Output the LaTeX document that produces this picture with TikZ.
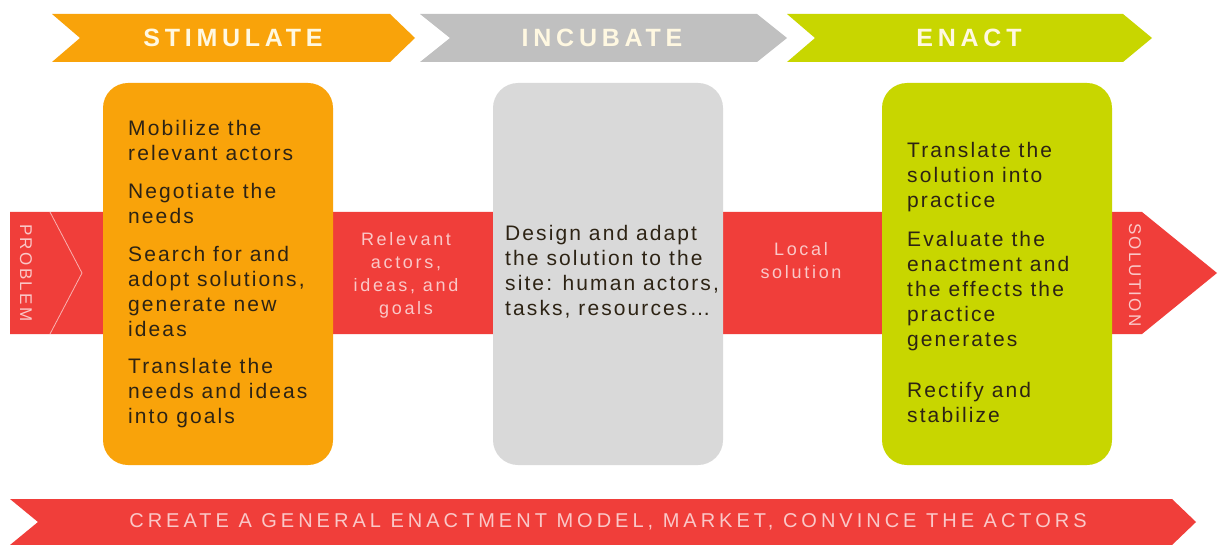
\documentclass[tikz,border=0pt]{standalone}
\usepackage{fontspec}
\setmainfont{Liberation Sans}
\newfontfamily\headfont{Liberation Sans}[LetterSpace=19]
\newfontfamily\boxfont{Liberation Sans}[LetterSpace=10]
\newfontfamily\bandfont{Liberation Sans}[LetterSpace=15]
\newfontfamily\sidefont{Liberation Sans}[LetterSpace=14]
\newfontfamily\footfont{Liberation Sans}[LetterSpace=20]

\definecolor{stimorange}{RGB}{249,163,10}
\definecolor{incgray}{RGB}{192,192,192}
\definecolor{incbox}{RGB}{217,217,217}
\definecolor{enactgreen}{RGB}{200,214,0}
\definecolor{bandred}{RGB}{240,62,58}
\definecolor{headcream}{RGB}{255,248,225}
\definecolor{bandpink}{RGB}{250,200,200}
\definecolor{darktext}{RGB}{45,35,20}

\begin{document}
\begin{tikzpicture}[x=1pt, y=-1pt]
        \tikzstyle{stage}=[rounded corners=25pt,minimum width=230pt,minimum height=382pt,inner sep=0pt]
        \tikzstyle{headtext}=[font=\headfont\bfseries\fontsize{25}{30}\selectfont,text=headcream,inner sep=0pt]
        \tikzstyle{boxtext}=[font=\boxfont\fontsize{21}{25}\selectfont,text=darktext,align=left,inner sep=0pt,anchor=north west]
        \tikzstyle{bandtext}=[font=\bandfont\fontsize{18}{23}\selectfont,text=bandpink,align=center,inner sep=0pt,anchor=north]
        \tikzstyle{sidetext}=[font=\sidefont\fontsize{17}{20}\selectfont,text=bandpink,inner sep=0pt,rotate=-90]

        \fill[white] (0,0) rectangle (1222,545);
        \useasboundingbox (0,0) rectangle (1222,545);

        \fill[stimorange] (52,14) -- (390,14) -- (415,38) -- (390,62) -- (52,62) -- (80,38) -- cycle;
        \fill[incgray] (420,14) -- (757,14) -- (787,38) -- (757,62) -- (420,62) -- (450,38) -- cycle;
        \fill[enactgreen] (787,14) -- (1123,14) -- (1152,38) -- (1123,62) -- (787,62) -- (815,38) -- cycle;
        \node[headtext] (H_1) at (233,38) {STIMULATE};
        \node[headtext] (H_2) at (602,38) {INCUBATE};
        \node[headtext] (H_3) at (969,38) {ENACT};

        \fill[bandred] (10,212) -- (1142,212) -- (1217,273) -- (1142,334) -- (10,334) -- cycle;
        \draw[white,opacity=0.6,line width=0.8pt] (50,212) -- (82,273) -- (50,334);
        \node[sidetext] (P) at (26,273) {PROBLEM};
        \node[sidetext] (S) at (1135,275) {SOLUTION};

        \node[stage,fill=stimorange] (B_1) at (218,274) {};
        \node[stage,fill=incbox] (B_2) at (608,274) {};
        \node[stage,fill=enactgreen] (B_3) at (997,274) {};

        \node[boxtext] (T_1) at (128,120) {Mobilize the\\relevant actors\\[13pt]Negotiate the\\needs\\[13pt]Search for and\\adopt solutions,\\generate new\\ideas\\[12pt]Translate the\\needs and ideas\\into goals};
        \node[boxtext] (T_2) at (505,225) {Design and adapt\\the solution to the\\site: human actors,\\tasks, resources\dots};
        \node[boxtext] (T_3) at (907,142) {Translate the\\solution into\\practice\\[14pt]Evaluate the\\enactment and\\the effects the\\practice\\generates\\[26pt]Rectify and\\stabilize};

        \node[bandtext] (L_1) at (406,232) {Relevant\\actors,\\ideas, and\\goals};
        \node[bandtext] (L_2) at (801,242) {Local\\solution};

        \fill[bandred] (10,499) -- (1172,499) -- (1196,522) -- (1172,545) -- (10,545) -- (38,522) -- cycle;
        \node[font=\footfont\fontsize{20}{24}\selectfont,text=bandpink,inner sep=0pt] (F) at (608,522) {CREATE A GENERAL ENACTMENT MODEL, MARKET, CONVINCE THE ACTORS};
\end{tikzpicture}
\end{document}
